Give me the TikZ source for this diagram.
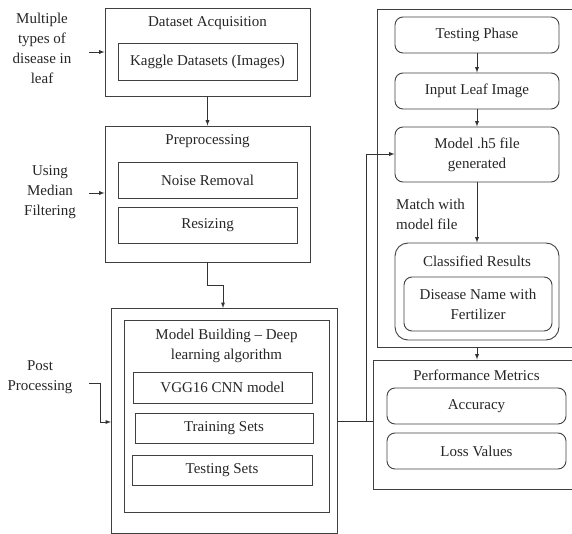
\documentclass[tikz,border=0pt]{standalone}
\usepackage{fontspec}
\setmainfont{Liberation Serif}
\usepackage{tikz}
\usetikzlibrary{positioning,shapes,arrows,fit,calc}

\begin{document}
\begin{tikzpicture}[x=1pt, y=-1pt,
    every node/.style={font=\fontsize{15}{20}\selectfont, text=black!85},
    box/.style={draw=black!75, line width=0.9pt, inner sep=0pt, align=center},
    rbox/.style={box, rounded corners=8pt},
    lbl/.style={align=center, inner sep=0pt},
    arrow/.style={->, >=latex, line width=0.9pt, draw=black!80},
    link/.style={line width=0.9pt, draw=black!80}]
    \useasboundingbox (0,0) rectangle (572,534);
    \clip (0,0) rectangle (572,534);

    % Dataset Acquisition
    \node[box, minimum width=205pt, minimum height=88pt] (acq) at (207.5,52) {};
    \node[lbl] (acqtitle) at (207.5,23) {Dataset Acquisition};
    \node[box, minimum width=179pt, minimum height=37pt] (kaggle) at (207.5,61.5) {Kaggle Datasets (Images)};

    % Preprocessing
    \node[box, minimum width=205pt, minimum height=136pt] (prep) at (207.5,194) {};
    \node[lbl] (preptitle) at (207.5,141) {Preprocessing};
    \node[box, minimum width=179pt, minimum height=36pt] (noise) at (207.5,180) {Noise Removal};
    \node[box, minimum width=179pt, minimum height=36pt] (resize) at (207.5,225) {Resizing};

    % Model Building
    \node[box, minimum width=226pt, minimum height=225pt] (model) at (224,420.5) {};
    \node[box, minimum width=205pt, minimum height=192pt] (modelin) at (226.5,416) {};
    \node[lbl] (modeltitle) at (226.5,345.5) {Model Building -- Deep\\learning algorithm};
    \node[box, minimum width=179pt, minimum height=31pt] (vgg) at (222.5,387.5) {VGG16 CNN model};
    \node[box, minimum width=178pt, minimum height=30pt] (train) at (224,428) {Training Sets};
    \node[box, minimum width=180pt, minimum height=30pt] (testsets) at (222,470) {Testing Sets};

    % Testing Phase
    \node[box, minimum width=202pt, minimum height=338pt] (phase) at (478,178) {};
    \node[rbox, minimum width=164pt, minimum height=36pt] (testing) at (477,35) {Testing Phase};
    \node[rbox, minimum width=164pt, minimum height=36pt] (input) at (477,91) {Input Leaf Image};
    \node[rbox, minimum width=164pt, minimum height=55pt] (hfive) at (477,154.5) {Model .h5 file\\generated};
    \node[lbl, align=left, anchor=west] (match) at (396,214.5) {Match with\\model file};
    \node[rbox, rounded corners=13pt, minimum width=164pt, minimum height=97pt] (classified) at (477,291.5) {};
    \node[lbl] (classtitle) at (477,261) {Classified Results};
    \node[rbox, minimum width=148pt, minimum height=54pt] (disease) at (478,304) {Disease Name with\\Fertilizer};

    % Performance Metrics
    \node[box, minimum width=207pt, minimum height=129pt] (perf) at (476.5,424.5) {};
    \node[lbl] (perftitle) at (476.5,375) {Performance Metrics};
    \node[rbox, minimum width=179pt, minimum height=36pt] (accuracy) at (476.5,406) {Accuracy};
    \node[rbox, minimum width=179pt, minimum height=36pt] (loss) at (476.5,451) {Loss Values};

    % Side labels
    \node[lbl] (multi) at (42,48.5) {Multiple\\types of\\disease in\\leaf};
    \node[lbl] (median) at (50,192) {Using\\Median\\Filtering};
    \node[lbl] (post) at (40,377.5) {Post\\Processing};
    \coordinate (multiend) at (89,52);
    \coordinate (medianend) at (89,193);
    \coordinate (postend) at (89,383);
    \coordinate (junction) at (366,421);

    % Connect components with arrows
    \draw[arrow] (multiend) -- (multiend -| acq.west);
    \draw[arrow] (medianend) -- (medianend -| prep.west);
    \draw[arrow] (postend) -- (100,383) -- (100,422) -- (111,422);
    \draw[arrow] (acq.south) -- (prep.north);
    \draw[arrow] (prep.south) -- (207.5,285) -- (223,285) -- (223,308);
    \draw[arrow] (testing) -- (input);
    \draw[arrow] (input) -- (hfive);
    \draw[arrow] (hfive.south) -- (classified.north);
    \draw[arrow] (477,347) -- (perf.north -| 477,0);
    \draw[link] (junction -| model.east) -- (junction -| perf.west);
    \draw[arrow] (junction) -- (366,154) -- (hfive.west |- 0,154);
\end{tikzpicture}
\end{document}
